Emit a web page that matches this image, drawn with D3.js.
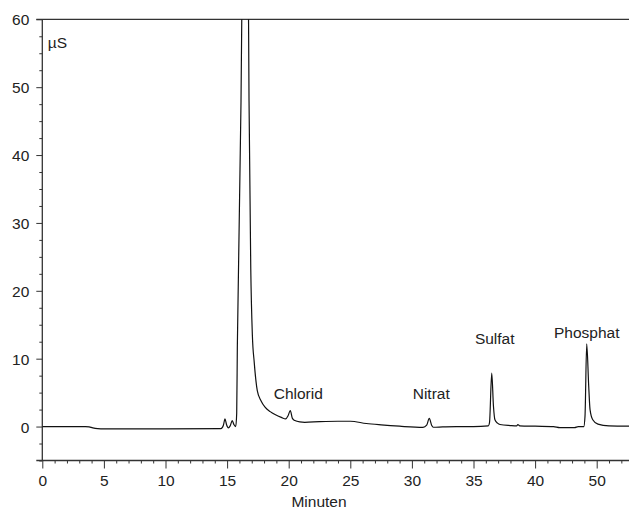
<!DOCTYPE html>
<html>
<head>
<meta charset="utf-8">
<script src="https://cdn.jsdelivr.net/npm/d3@7/dist/d3.min.js"></script>
<style>
  html, body { margin: 0; padding: 0; background: #fff; }
  svg { display: block; font-family: "Liberation Sans", Arial, Helvetica, sans-serif; }
</style>
</head>
<body>
<svg id="chart" width="629" height="509"></svg>
<script>
// Retention time (min) and conductivity (µS) of the chromatogram trace
const minutes = [
  0, 3.5, 3.8, 4.1, 4.5, 5, 10, 14.5, 14.7, 14.83, 14.95, 15.1, 15.25, 15.42, 15.55, 15.7,
  15.78, 15.83, 16.13, 16.19, 16.3, 16.45, 16.6, 16.72, 16.78, 16.92, 17.05, 17.2, 17.45,
  17.75, 18.08, 18.5, 18.89, 19.4, 19.76, 19.95, 20.13, 20.3, 20.5, 20.9, 21.3, 22.5, 24,
  25, 26.3, 27.5, 29, 30.9, 31.2, 31.41, 31.6, 31.74, 32.5, 33.6, 35, 36.2, 36.3, 36.48,
  36.62, 36.74, 36.95, 37.15, 38, 38.5, 38.6, 38.75, 40, 41.5, 42, 43.2, 43.5, 43.95,
  44.05, 44.19, 44.35, 44.46, 44.68, 45.1, 46, 47.7
];
const signal = [
  0, 0, -0.05, -0.2, -0.3, -0.33, -0.33, -0.3, 0.2, 1.13, 0.3, -0.2, 0.1, 0.88, 0.3, 0.0,
  2, 11.6, 48, 60, 85, 100, 85, 66, 48, 23.4, 13.5, 9.5, 5.3,
  3.8, 2.85, 2.2, 1.77, 1.35, 1.13, 1.6, 2.36, 1.2, 0.88, 0.68, 0.63, 0.72, 0.78,
  0.78, 0.45, 0.25, 0.05, -0.12, 0.2, 1.22, 0.2, -0.1, -0.05, 0.0, 0.0, 0.1, 0.6, 7.86,
  3, 1.0, 0.5, 0.3, 0.15, 0.1, 0.3, 0.1, 0.05, 0.0, -0.15, -0.15, 0.0, 0.0,
  1.5, 12.19, 6, 2.5, 1.0, 0.35, 0.1, 0.05
];

// Named peaks and their retention times
const peakNames = ["Chlorid", "Nitrat", "Sulfat", "Phosphat"];
const peakTimes = [20.13, 31.41, 36.48, 44.19];

// Axis ticks
const xTickValues = [0, 5, 10, 15, 20, 25, 30, 35, 40, 45];
const xTickLabels = ["0", "5", "10", "15", "20", "25", "30", "35", "40", "50"];
const yTickValues = [0, 10, 20, 30, 40, 50, 60];
const yUnit = "µS";
const xTitle = "Minuten";

const svg = d3.select("#chart");
const plot = { left: 42.3, right: 629, top: 19.3, bottom: 460.5 };

const x = d3.scaleLinear().domain([0, (plot.right - plot.left) / 12.32]).range([plot.left, plot.right]);
const y = d3.scaleLinear().domain([-5, 60]).range([plot.bottom, plot.top]);

const axisColor = "#333";
const textColor = "#222";
const fontSize = "15.5px";

// Minor ticks
const xMinor = d3.range(0, Math.floor(x.domain()[1]) + 1, 1).filter(v => v % 5 !== 0);
const yMinor = d3.range(-5, 60.01, 2.5).filter(v => v % 10 !== 0);

const gx = svg.append("g").attr("transform", `translate(0,${plot.bottom})`);
gx.call(d3.axisBottom(x).tickValues(xTickValues).tickSize(8).tickSizeOuter(0).tickPadding(6)
  .tickFormat((d, i) => xTickLabels[i]));
gx.select(".domain").remove();
gx.selectAll("line").attr("stroke", axisColor);
gx.selectAll("text").attr("fill", textColor).style("font-size", fontSize);

const gxm = svg.append("g").attr("transform", `translate(0,${plot.bottom})`);
gxm.call(d3.axisBottom(x).tickValues(xMinor).tickSize(3).tickFormat(""));
gxm.select(".domain").remove();
gxm.selectAll("line").attr("stroke", axisColor);

const gy = svg.append("g").attr("transform", `translate(${plot.left},0)`);
gy.call(d3.axisLeft(y).tickValues(yTickValues).tickSize(6).tickSizeOuter(0).tickPadding(7));
gy.select(".domain").remove();
gy.selectAll("line").attr("stroke", axisColor);
gy.selectAll("text").attr("fill", textColor).style("font-size", fontSize).attr("dy", "0.36em");

const gym = svg.append("g").attr("transform", `translate(${plot.left},0)`);
gym.call(d3.axisLeft(y).tickValues(yMinor).tickSize(3).tickFormat(""));
gym.select(".domain").remove();
gym.selectAll("line").attr("stroke", axisColor);

// Frame: left axis, bottom axis and top border
svg.append("line").attr("x1", plot.left).attr("x2", plot.left).attr("y1", plot.top).attr("y2", plot.bottom)
  .attr("stroke", axisColor).attr("stroke-width", 1.3);
svg.append("line").attr("x1", plot.left - 6).attr("x2", plot.right).attr("y1", plot.bottom).attr("y2", plot.bottom)
  .attr("stroke", axisColor).attr("stroke-width", 1.3);
svg.append("line").attr("x1", plot.left - 6).attr("x2", plot.right).attr("y1", plot.top).attr("y2", plot.top)
  .attr("stroke", axisColor).attr("stroke-width", 1.3);

// Clip the trace to the plotting area
svg.append("clipPath").attr("id", "plotClip").append("rect")
  .attr("x", plot.left).attr("y", plot.top)
  .attr("width", plot.right - plot.left).attr("height", plot.bottom - plot.top);

const trace = minutes.map((t, i) => [t, signal[i]]);
const line = d3.line().x(d => x(d[0])).y(d => y(d[1])).curve(d3.curveMonotoneX);

svg.append("path").datum(trace)
  .attr("clip-path", "url(#plotClip)")
  .attr("d", line)
  .attr("fill", "none")
  .attr("stroke", "#111")
  .attr("stroke-width", 1.2)
  .attr("stroke-linejoin", "round");

// Peak labels, placed above each peak apex
const labelOffsets = { Chlorid: [8, -12], Nitrat: [2, -19], Sulfat: [3, -29], Phosphat: [0, -6] };
peakNames.forEach((name, i) => {
  const t = peakTimes[i];
  const v = signal[minutes.indexOf(t)];
  const [dx, dy] = labelOffsets[name];
  svg.append("text")
    .attr("x", x(t) + dx)
    .attr("y", y(v) + dy)
    .attr("text-anchor", "middle")
    .attr("fill", textColor)
    .style("font-size", fontSize)
    .text(name);
});

// Unit label inside the plot and axis title
svg.append("text").attr("x", plot.left + 5.5).attr("y", 48.3)
  .attr("fill", textColor).style("font-size", fontSize).text(yUnit);

svg.append("text").attr("x", 319).attr("y", 507)
  .attr("text-anchor", "middle").attr("fill", textColor).style("font-size", fontSize).text(xTitle);
</script>
</body>
</html>
